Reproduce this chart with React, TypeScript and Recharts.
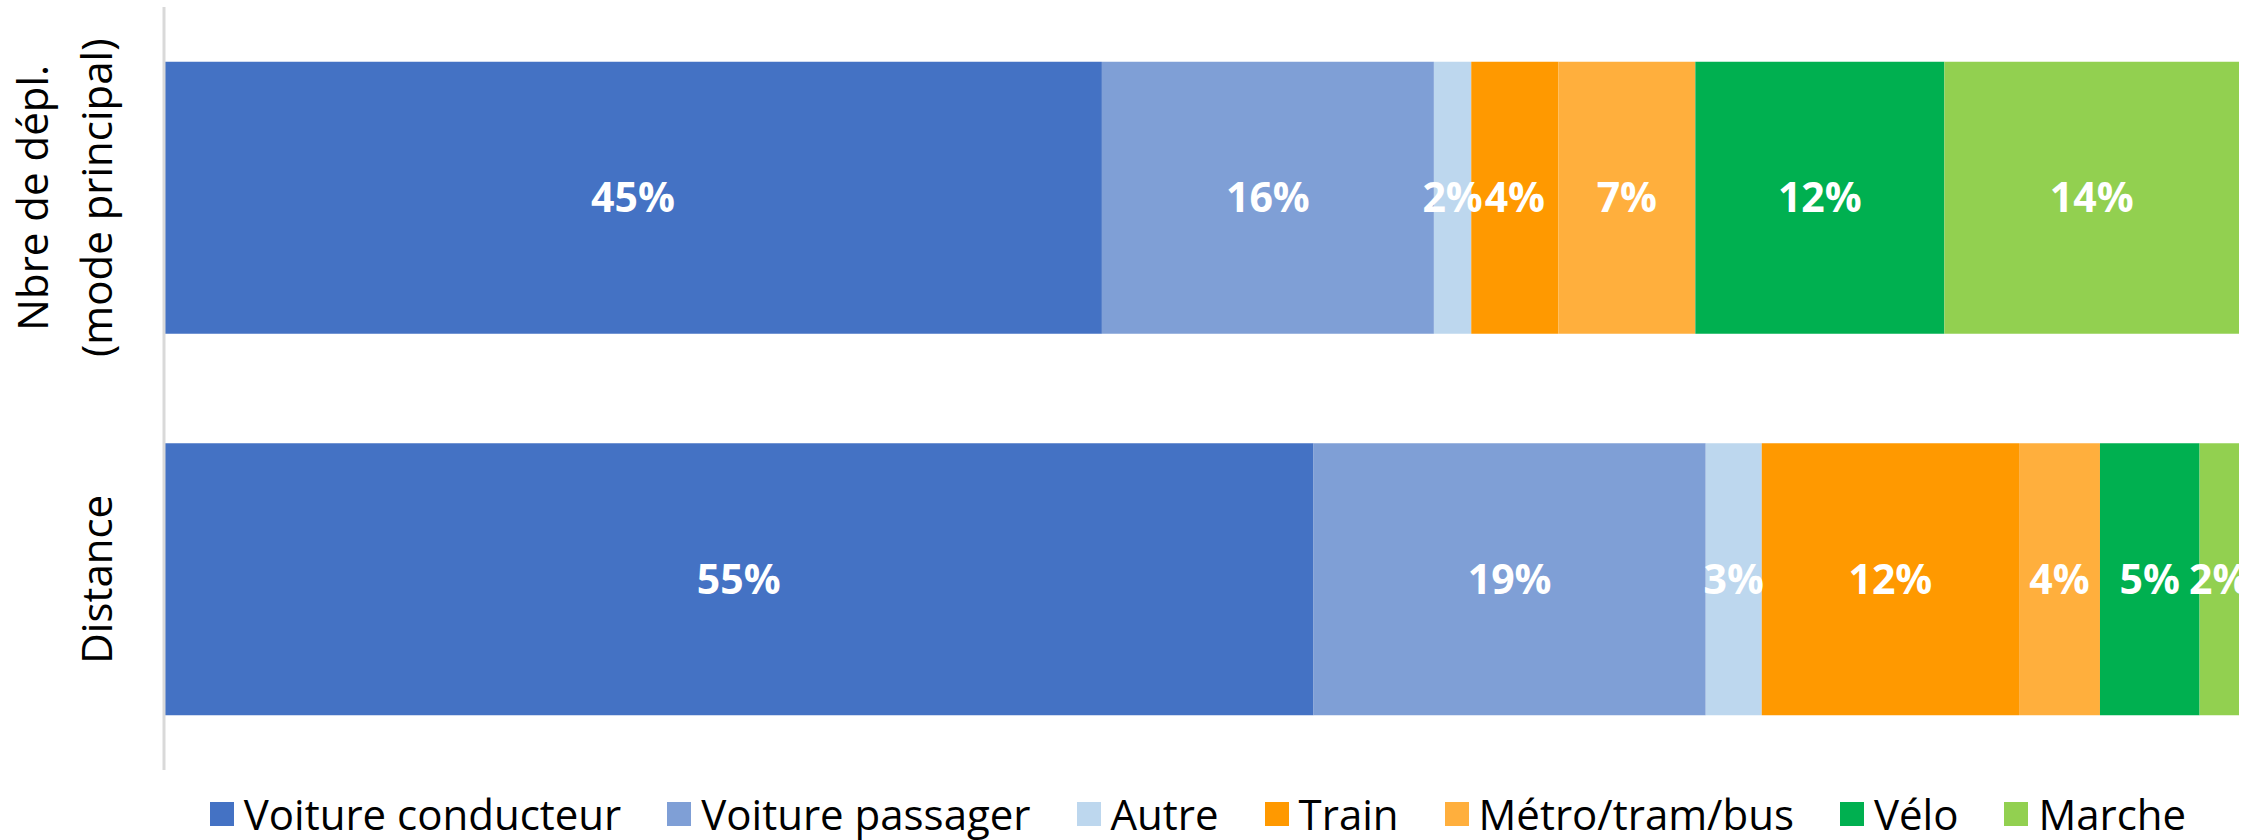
import React from "react";
import { BarChart, Bar, XAxis, YAxis, Legend, LabelList } from "recharts";

// Parts (%), 100% stacked bars
const categories = ["Nbre de dépl.\n(mode principal)", "Distance"];
const voitureConducteur = [45.2, 55.4];
const voiturePassager = [16.0, 18.9];
const autre = [1.8, 2.7];
const train = [4.2, 12.4];
const metroTramBus = [6.6, 3.9];
const velo = [12.0, 4.8];
const marche = [14.2, 1.9];

const series = [
  { key: "vc", name: "Voiture conducteur", color: "#4472C4", values: voitureConducteur },
  { key: "vp", name: "Voiture passager", color: "#7F9FD6", values: voiturePassager },
  { key: "autre", name: "Autre", color: "#BDD7EE", values: autre },
  { key: "train", name: "Train", color: "#FF9900", values: train },
  { key: "metro", name: "Métro/tram/bus", color: "#FFAF3D", values: metroTramBus },
  { key: "velo", name: "Vélo", color: "#00B050", values: velo },
  { key: "marche", name: "Marche", color: "#92D050", values: marche },
];

const data = categories.map((name, i) => {
  const row: Record<string, string | number> = { name };
  series.forEach((s) => {
    row[s.key] = s.values[i];
  });
  return row;
});

const FONT = "'Open Sans', sans-serif";

const CategoryTick = (props: any) => {
  const { x, y, payload } = props;
  const lines = String(payload.value).split("\n");
  return (
    <g>
      {lines.map((line: string, i: number) => {
        const bx = x - 52 - (lines.length - 1 - i) * 64;
        return (
          <text
            key={i}
            x={bx}
            y={y}
            transform={`rotate(-90, ${bx}, ${y})`}
            textAnchor="middle"
            fontFamily={FONT}
            fontSize={42}
            fill="#000"
          >
            {line}
          </text>
        );
      })}
    </g>
  );
};

const seriesOrder = series.map((s) => s.name);

const renderLegend = (props: any) => {
  // keep the series order (Recharts sorts legend items by name otherwise)
  const payload = [...(props.payload || [])].sort(
    (a: any, b: any) => seriesOrder.indexOf(a.value) - seriesOrder.indexOf(b.value)
  );
  return (
    <div
      style={{
        display: "flex",
        justifyContent: "center",
        paddingLeft: 137,
        paddingTop: 17,
        height: 70,
        boxSizing: "border-box",
        fontFamily: FONT,
        fontSize: 42,
        lineHeight: "57px",
        color: "#000",
      }}
    >
      {payload.map((entry: any, i: number) => (
        <div
          key={entry.value}
          style={{
            display: "flex",
            alignItems: "center",
            marginRight: i < payload.length - 1 ? 46 : 0,
            whiteSpace: "nowrap",
          }}
        >
          <span
            style={{
              display: "inline-block",
              width: 24,
              height: 24,
              background: entry.color,
              marginRight: 10,
            }}
          />
          <span>{entry.value}</span>
        </div>
      ))}
    </div>
  );
};

export default function App() {
  return (
    <div style={{ position: "absolute", left: 0, top: 0 }}>
      <BarChart
        width={2259}
        height={840}
        data={data}
        layout="vertical"
        stackOffset="expand"
        barCategoryGap="14.35%"
        margin={{ top: 7, right: 20, bottom: 0, left: 0 }}
      >
        <XAxis type="number" hide domain={[0, 1]} />
        <YAxis
          type="category"
          dataKey="name"
          width={164}
          tickLine={false}
          tickSize={0}
          tickMargin={0}
          axisLine={{ stroke: "#D9D9D9", strokeWidth: 3 }}
          tick={<CategoryTick />}
          interval={0}
        />
        <Legend
          verticalAlign="bottom"
          content={renderLegend}
          wrapperStyle={{ left: 0, width: 2259, bottom: 0 }}
        />
        {series.map((s) => (
          <Bar
            key={s.key}
            dataKey={s.key}
            name={s.name}
            stackId="modes"
            fill={s.color}
            isAnimationActive={false}
          >
            <LabelList
              dataKey={s.key}
              position="center"
              fill="#FFFFFF"
              fontFamily={FONT}
              fontWeight="bold"
              fontSize={41}
              formatter={(v: any) => `${Math.round(Number(v))}%`}
            />
          </Bar>
        ))}
      </BarChart>
    </div>
  );
}
